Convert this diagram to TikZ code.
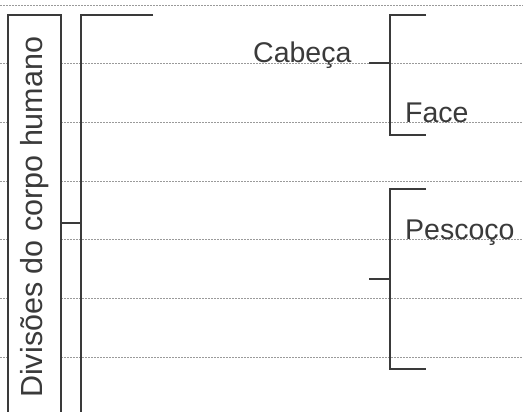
\documentclass[tikz,border=0pt]{standalone}
\usepackage{fontspec}
\setmainfont{Liberation Sans}
\definecolor{ink}{HTML}{3A3A3A}
\definecolor{rule}{HTML}{9A9A9A}
\begin{document}
\begin{tikzpicture}[x=1pt,y=-1pt,
  guide/.style={draw=rule,line width=0.6pt,dash pattern=on 2pt off 1pt},
  brk/.style={draw=ink,line width=1.1pt},
  lbl/.style={inner sep=0pt,anchor=base west,text=ink,font=\fontsize{28.5}{30}\selectfont}]
\useasboundingbox (0,0) rectangle (523,412);
\fill[white] (0,0) rectangle (523,412);
% guide lines
\draw[guide] (0,5) -- (523,5);
\foreach \yy in {63,122,181,239,298,357}{
  \draw[guide] (0,\yy) -- (8,\yy);
  \draw[guide] (61,\yy) -- (523,\yy);
}
% title box (open at bottom)
\draw[brk] (8,412) -- (8,15) -- (61,15) -- (61,412);
\node[inner sep=0pt,anchor=base west,rotate=90,text=ink,font=\fontsize{30.5}{32}\selectfont] (title) at (42,398) {Divisões do corpo humano};
% main bracket
\coordinate (t1) at (61,223);
\coordinate (b1) at (81,223);
\draw[brk] (153,15) -- (81,15) -- (81,412);
\draw[brk] (t1) -- (b1);
% labels
\node[lbl] (cab) at (253,63) {Cabeça};
\node[lbl] (face) at (405,123) {Face};
\node[lbl] (pesc) at (405,240) {Pescoço};
% Cabeça bracket
\coordinate (c1) at (369,63);
\coordinate (c2) at (390,63);
\draw[brk] (c1) -- (c2);
\draw[brk] (426,15) -- (390,15) -- (390,135) -- (426,135);
% second bracket
\coordinate (p1) at (369,279);
\coordinate (p2) at (390,279);
\draw[brk] (p1) -- (p2);
\draw[brk] (426,189) -- (390,189) -- (390,369) -- (426,369);
\end{tikzpicture}
\end{document}
